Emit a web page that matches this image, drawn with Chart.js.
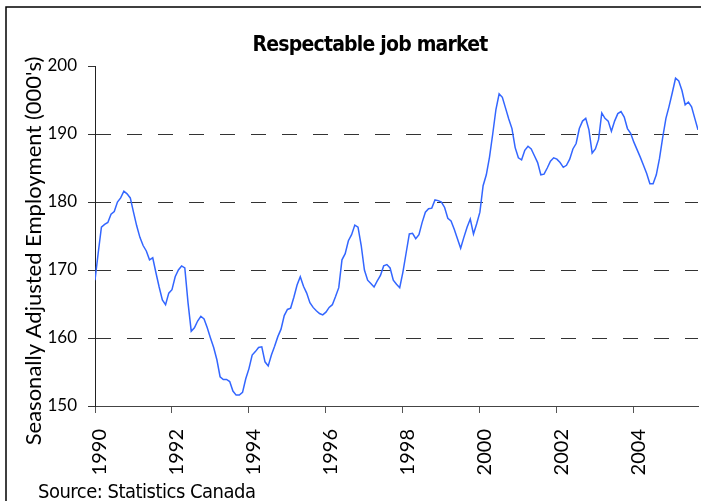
<!DOCTYPE html>
<html>
<head>
<meta charset="utf-8">
<script src="https://cdn.jsdelivr.net/npm/chart.js"></script>
<style>
  html, body { margin: 0; padding: 0; background: #fff; }
  #wrap { width: 701px; height: 501px; }
</style>
</head>
<body>
<div id="wrap"><canvas id="jobChart" width="701" height="501"></canvas></div>
<script>
// Monthly employment, Jan 1990 - Sep 2005 (thousands, seasonally adjusted)
const startYear = 1990;
const employment = [
  168.5, 172.5, 176.3, 176.7, 177.0, 178.2, 178.6, 180.0, 180.6, 181.6, 181.2, 180.6,
  178.5, 176.5, 174.8, 173.6, 172.8, 171.5, 171.8, 169.6, 167.5, 165.6, 164.9, 166.6,
  167.1, 169.0, 170.0, 170.6, 170.3, 165.2, 161.0, 161.5, 162.5, 163.2, 162.8, 161.5,
  160.0, 158.6, 156.8, 154.3, 153.9, 153.9, 153.6, 152.2, 151.6, 151.6, 152.0, 154.0,
  155.5, 157.5, 158.0, 158.6, 158.7, 156.5, 155.9, 157.5, 158.8, 160.2, 161.3, 163.3,
  164.2, 164.4, 166.0, 167.8, 169.0, 167.6, 166.6, 165.2, 164.5, 164.0, 163.6, 163.4,
  163.8, 164.5, 164.9, 166.1, 167.4, 171.5, 172.4, 174.3, 175.2, 176.6, 176.3, 173.6,
  170.0, 168.5, 168.0, 167.5, 168.4, 169.2, 170.6, 170.8, 170.3, 168.5, 167.9, 167.4,
  169.7, 172.5, 175.3, 175.4, 174.6, 175.2, 177.0, 178.5, 179.0, 179.1, 180.3, 180.2,
  180.0, 179.2, 177.6, 177.2, 176.0, 174.6, 173.2, 174.8, 176.3, 177.5, 175.3, 176.8,
  178.5, 182.4, 184.0, 186.6, 190.0, 193.6, 195.9, 195.4, 193.8, 192.2, 190.8, 188.0,
  186.5, 186.2, 187.6, 188.2, 187.8, 186.8, 185.8, 184.0, 184.1, 185.0, 186.0, 186.5,
  186.3, 185.8, 185.1, 185.4, 186.3, 187.8, 188.6, 190.8, 191.9, 192.3, 190.6, 187.2,
  187.8, 189.2, 193.1, 192.3, 191.9, 190.4, 191.9, 193.0, 193.3, 192.5, 190.8, 190.1,
  188.8, 187.7, 186.6, 185.4, 184.2, 182.7, 182.7, 184.0, 186.4, 189.5, 192.3, 194.1,
  196.1, 198.2, 197.8, 196.4, 194.3, 194.7, 194.0, 192.3, 190.6
];
const yearTicks = [1990, 1992, 1994, 1996, 1998, 2000, 2002, 2004];
const yTicks = [150, 160, 170, 180, 190, 200];

const chartTitle = 'Respectable job market';
const yTitle = "Seasonally Adjusted Employment (000's)";
const sourceNote = 'Source: Statistics Canada';

// points placed on a time axis (decimal years)
const points = employment.map((v, i) => ({ x: startYear + i / 12, y: v }));

// Titre, axe Y et source dessinés à la main, plus le cadre extérieur
const textPlugin = {
  id: 'chartText',
  afterDraw(chart) {
    const ctx = chart.ctx;
    ctx.save();
    ctx.strokeStyle = '#000';
    ctx.lineWidth = 1.5;
    ctx.beginPath();
    ctx.moveTo(6, 520);
    ctx.lineTo(6, 7);
    ctx.lineTo(720, 7);
    ctx.stroke();

    ctx.fillStyle = '#000';
    ctx.textAlign = 'center';
    ctx.textBaseline = 'middle';
    ctx.font = "bold 21px 'Liberation Sans Narrow', 'DejaVu Sans Condensed', sans-serif";
    ctx.letterSpacing = '-0.8px';
    ctx.fillText(chartTitle, 370, 46);
    ctx.letterSpacing = '0px';

    ctx.translate(34, 251);
    ctx.rotate(-Math.PI / 2);
    ctx.font = "22px Lato, sans-serif";
    ctx.fillText(yTitle, 0, 0);
    ctx.restore();

    ctx.save();
    ctx.fillStyle = '#000';
    ctx.textAlign = 'left';
    ctx.textBaseline = 'alphabetic';
    ctx.font = "20px 'Liberation Sans Narrow', 'DejaVu Sans Condensed', sans-serif";
    ctx.letterSpacing = '-0.5px';
    ctx.fillText(sourceNote, 38, 498);
    ctx.restore();
  }
};

new Chart(document.getElementById('jobChart'), {
  type: 'line',
  data: {
    datasets: [{
      label: 'Employment',
      data: points,
      borderColor: '#3366ff',
      borderWidth: 1.5,
      pointRadius: 0,
      tension: 0,
      fill: false
    }]
  },
  options: {
    responsive: false,
    animation: false,
    layout: { padding: { left: 6, right: 3, top: 66, bottom: 0 } },
    plugins: {
      legend: { display: false },
      title: { display: false },
      tooltip: { enabled: false }
    },
    scales: {
      x: {
        type: 'linear',
        min: startYear,
        max: startYear + (employment.length - 1) / 12,
        afterBuildTicks: scale => { scale.ticks = yearTicks.map(v => ({ value: v })); },
        afterFit: scale => { scale.height = 95; },
        grid: {
          drawOnChartArea: false,
          drawTicks: true,
          tickLength: 7,
          tickColor: '#555'
        },
        border: { color: '#444', width: 1 },
        ticks: {
          minRotation: 90,
          maxRotation: 90,
          padding: 16,
          labelOffset: 5,
          color: '#000',
          font: { family: 'Lato', size: 20 },
          callback: v => String(v)
        }
      },
      y: {
        min: 150,
        max: 200,
        afterBuildTicks: scale => { scale.ticks = yTicks.map(v => ({ value: v })); },
        afterFit: scale => { scale.width = 89; },
        grid: {
          color: ctx => (ctx.tick && (ctx.tick.value === 150 || ctx.tick.value === 200)) ? 'rgba(0,0,0,0)' : '#333',
          lineWidth: 1,
          tickLength: 7,
          tickColor: '#333'
        },
        border: { color: '#222', width: 1, dash: [15, 16] },
        ticks: {
          padding: 11,
          color: '#000',
          font: { family: 'Lato', size: 17 }
        }
      }
    }
  },
  plugins: [textPlugin]
});
</script>
</body>
</html>
